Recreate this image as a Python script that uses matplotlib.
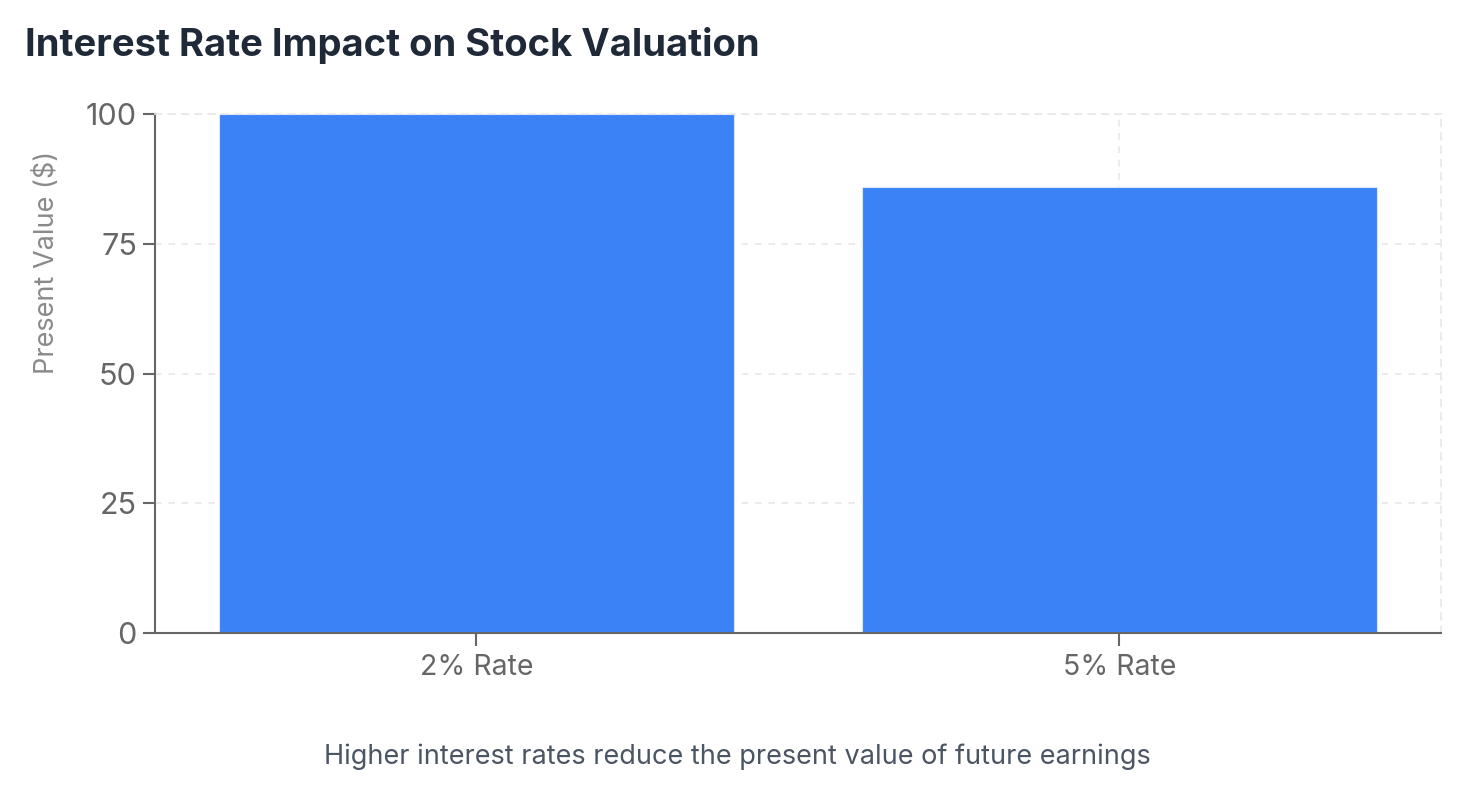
import matplotlib.pyplot as plt
import numpy as np

plt.rcParams['font.family'] = ['Inter', 'DejaVu Sans']

categories = ['2% Rate', '5% Rate']
values = [100, 86]
y_ticks = [0, 25, 50, 75, 100]

fig = plt.figure(figsize=(14.66, 7.93), dpi=100)
ax = fig.add_axes([0.1057, 0.2018, 0.8772, 0.6544])

x = np.arange(len(categories))
ax.bar(x, values, width=0.8, color='#3b82f6', edgecolor='#dbe6fb', linewidth=0.8, zorder=2)

ax.set_xlim(-0.5, 1.5)
ax.set_ylim(0, 100)
ax.set_xticks(x)
ax.set_xticklabels(categories)
ax.set_yticks(y_ticks)

ax.grid(True, color='#e5e7eb', linestyle=(0, (4, 4)), linewidth=1.2, zorder=0)
for s in ['top', 'right']:
    ax.spines[s].set_visible(True)
    ax.spines[s].set_color('#e5e7eb')
    ax.spines[s].set_linestyle((0, (4, 4)))
    ax.spines[s].set_linewidth(1.2)
for s in ['left', 'bottom']:
    ax.spines[s].set_color('#666666')
    ax.spines[s].set_linewidth(1.5)

ax.tick_params(axis='y', colors='#666666', labelsize=22, length=9, width=1.5, pad=4)
ax.tick_params(axis='x', colors='#666666', labelsize=20.5, length=9, width=1.5, pad=6)

# y label sits above the middle of the axis, as in the original
ax.text(-0.084, 0.5, 'Present Value ($)', transform=ax.transAxes, rotation=90,
        ha='center', va='bottom', color='#8a8a8a', fontsize=19.5)

fig.text(0.017, 0.943, 'Interest Rate Impact on Stock Valuation', fontsize=27.5,
         fontweight='bold', color='#1f2937', va='center', ha='left')
fig.text(0.503, 0.046, 'Higher interest rates reduce the present value of future earnings',
         fontsize=19.5, color='#4b5563', ha='center', va='center')

fig.savefig('out.png', dpi=100)
